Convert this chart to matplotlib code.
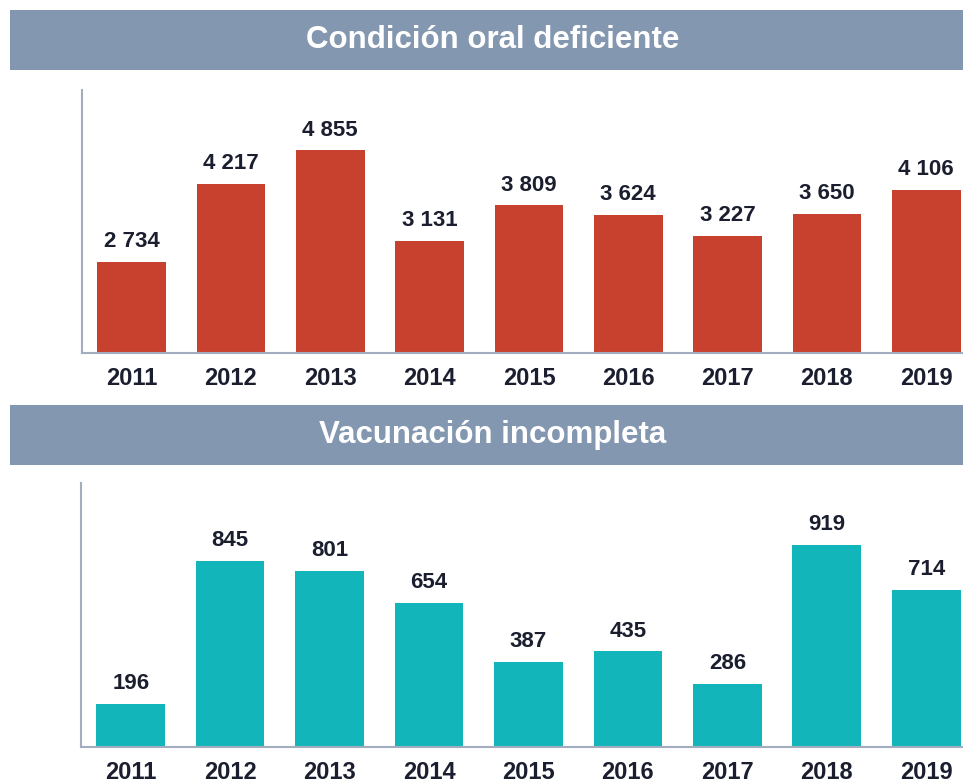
import matplotlib.pyplot as plt
from matplotlib.patches import Rectangle

# data
years = ['2011', '2012', '2013', '2014', '2015', '2016', '2017', '2018', '2019']
oral = [2734, 4217, 4855, 3131, 3809, 3624, 3227, 3650, 4106]
vacunas = [196, 845, 801, 654, 387, 435, 286, 919, 714]
titles = ['Condición oral deficiente', 'Vacunación incompleta']

RED = '#C8412E'
TEAL = '#12B5B9'
HEADER = '#8497B0'
SPINE = '#A3ADC0'
TEXT = '#1A1E2E'

W, H = 963, 783
plt.rcParams['font.family'] = ['Liberation Sans', 'DejaVu Sans']


def fmt(v):
    # thousands separated by a space, as in the reference
    return '{:,}'.format(v).replace(',', ' ')


def px_rect(x0, y0, x1, y1):
    '''pixel box (top-left origin) -> figure fraction [l, b, w, h]'''
    return [x0 / W, (H - y1) / H, (x1 - x0) / W, (y1 - y0) / H]


def draw_panel(fig, box, header, title, values, color, ylim):
    l, b, w, h = px_rect(*header)
    fig.patches.append(Rectangle((l, b), w, h, transform=fig.transFigure,
                                 facecolor=HEADER, edgecolor='none', zorder=0))
    fig.text(l + w / 2 + 0.006, b + h / 2, title, ha='center', va='center',
             color='white', fontsize=22.5, fontweight='bold')

    ax = fig.add_axes(px_rect(*box))
    x = range(len(years))
    bars = ax.bar(x, values, width=0.69, color=color, zorder=2)
    for rect, v in zip(bars, values):
        ax.annotate(fmt(v), (rect.get_x() + rect.get_width() / 2, rect.get_height()),
                    xytext=(0, 7), textcoords='offset points', ha='center',
                    va='bottom', fontsize=16, fontweight='bold', color=TEXT)
    ax.set_xlim(-0.5, 8.37)
    ax.set_ylim(*ylim)
    ax.set_xticks(list(x))
    ax.set_xticklabels(years, fontsize=17, fontweight='bold', color=TEXT)
    ax.tick_params(axis='x', length=0, pad=10)
    ax.set_yticks([])
    for s in ['top', 'right']:
        ax.spines[s].set_visible(False)
    for s in ['left', 'bottom']:
        ax.spines[s].set_color(SPINE)
        ax.spines[s].set_linewidth(1.5)
    return ax


fig = plt.figure(figsize=(W / 100, H / 100), dpi=100)
draw_panel(fig, (82, 90, 963, 353), (10, 10, 963, 70), titles[0], oral, RED, (1000, 6000))
draw_panel(fig, (81, 483, 963, 747), (10, 405, 963, 465), titles[1], vacunas, TEAL, (0, 1200))

fig.savefig('out.png', dpi=100)
